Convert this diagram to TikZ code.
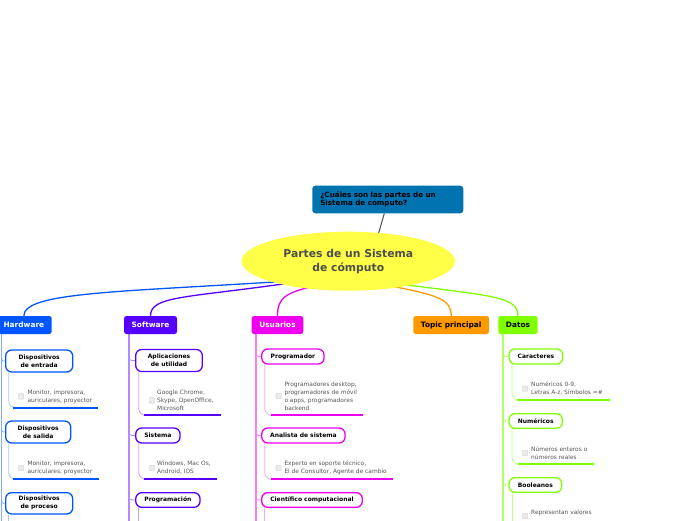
\documentclass[tikz,border=0pt]{standalone}
\usepackage{fontspec}
\setmainfont{DejaVu Sans}
\usetikzlibrary{shapes.geometric,calc}
\definecolor{hw}{RGB}{0,85,255}
\definecolor{sw}{RGB}{85,0,255}
\definecolor{us}{RGB}{238,0,238}
\definecolor{tp}{RGB}{255,153,0}
\definecolor{da}{RGB}{128,255,0}
\definecolor{qb}{RGB}{0,115,176}
\definecolor{yel}{RGB}{255,255,72}
\definecolor{dark}{RGB}{77,77,77}
\definecolor{leafgray}{RGB}{85,85,85}
\pgfdeclarelayer{bg}
\pgfsetlayers{bg,main}
\begin{document}
\begin{tikzpicture}[x=1pt,y=-1pt,
  topic/.style={rounded corners=2.5, inner sep=0, minimum height=18, font=\bfseries\fontsize{7.4}{9}\selectfont},
  sub/.style={draw, fill=white, line width=1.3, rounded corners=6, inner sep=0, align=center, font=\bfseries\fontsize{6}{8}\selectfont},
  leaf/.style={anchor=west, inner sep=0, align=left, text=leafgray, font=\fontsize{5.9}{8}\selectfont},
  chk/.style={draw=black!18, fill=black!8, line width=0.4, minimum size=5.5, inner sep=0, rounded corners=0.8},
  uline/.style={line width=2.3},
  spine/.style={line width=1.1},
  link/.style={line width=0.8},
  mainlink/.style={line width=1.3}]
\useasboundingbox (0,0) rectangle (696,520);
\clip (0,0) rectangle (696,520);

% question and centre
\node[fill=qb, rounded corners=3, inner xsep=8, inner ysep=0, text width=135, minimum height=27.6, align=left,
  font=\bfseries\fontsize{7.2}{8.6}\selectfont] (q) at (387.8,199.5) {¿Cuáles son las partes de un\\Sistema de cómputo?};
\node[ellipse, fill=yel, minimum width=213.4, minimum height=59, inner sep=0, align=center, text=dark,
  font=\bfseries\fontsize{10.8}{14.3}\selectfont] (c) at (348.3,261.2) {Partes de un Sistema\\de cómputo};

% main topics
\node[topic, fill=hw, text=white, minimum width=55.7] (hw) at (23.85,325) {Hardware};
\node[topic, fill=sw, text=white, minimum width=53] (sw) at (150.5,325) {Software};
\node[topic, fill=us, text=white, minimum width=51.6] (us) at (277.5,325) {Usuarios};
\node[topic, fill=tp, text=black, minimum width=75.7] (tp) at (451.2,325) {Topic principal};
\node[topic, fill=da, text=black, minimum width=39.4] (da) at (518,325) {Datos};

% coordinates
\coordinate (qend) at (376.6,240);
\coordinate (hwst) at (290,281);
\coordinate (swst) at (290,283);
\coordinate (usst) at (320,285);
\coordinate (tpst) at (385,285);
\coordinate (dast) at (400,284);
\coordinate (hwS) at (1.5,334);
\coordinate (swS) at (129,334);
\coordinate (usS) at (256,334);
\coordinate (daS) at (503,334);

% sub topics
\node[sub, draw=hw, minimum width=67, minimum height=22] (hw1) at (39.2,361) {Dispositivos\\de entrada};
\node[sub, draw=hw, minimum width=65, minimum height=22] (hw2) at (38.2,432) {Dispositivos\\de salida};
\node[sub, draw=hw, minimum width=67, minimum height=21.3] (hw3) at (39.2,503.3) {Dispositivos\\de proceso};
\node[sub, draw=sw, minimum width=66.6, minimum height=22] (sw1) at (169,360.5) {Aplicaciones\\de utilidad};
\node[sub, draw=sw, minimum width=44.3, minimum height=15] (sw2) at (157.9,435.5) {Sistema};
\node[sub, draw=sw, minimum width=64.3, minimum height=14.6] (sw3) at (167.9,500) {Programación};
\node[sub, draw=us, minimum width=62.3, minimum height=15] (us1) at (292.9,356.5) {Programador};
\node[sub, draw=us, minimum width=83.3, minimum height=15] (us2) at (303.4,435.5) {Analista de sistema};
\node[sub, draw=us, minimum width=100.6, minimum height=14.6] (us3) at (312,500) {Científico computacional};
\node[sub, draw=da, minimum width=53.7, minimum height=15] (da1) at (535.9,356.5) {Caracteres};
\node[sub, draw=da, minimum width=53.3, minimum height=14.6] (da2) at (535.7,421) {Numéricos};
\node[sub, draw=da, minimum width=52.7, minimum height=14.6] (da3) at (535.4,485) {Booleanos};

% leaves
\node[chk] (hwc1) at (21,396.4) {};
\node[leaf] (hwl1) at (27.3,396.4) {Monitor, impresora,\\auriculares, proyector};
\node[chk] (hwc2) at (21,468) {};
\node[leaf] (hwl2) at (27.3,468) {Monitor, impresora,\\auriculares, proyector};
\node[chk] (swc1) at (152,400.3) {};
\node[leaf] (swl1) at (157,400.3) {Google Chrome,\\Skype, OpenOffice,\\Microsoft};
\node[chk] (swc2) at (152,468) {};
\node[leaf] (swl2) at (157,468) {Windows, Mac Os,\\Android, IOS};
\node[chk] (usc1) at (278.7,396) {};
\node[leaf] (usl1) at (284.3,396) {Programadores desktop,\\programadores de móvil\\o apps, programadores\\backend};
\node[chk] (usc2) at (278.7,468) {};
\node[leaf] (usl2) at (284.3,468) {Experto en soporte técnico,\\El de Consultor, Agente de cambio};
\node[chk] (dac1) at (525,388.7) {};
\node[leaf] (dal1) at (531,388.7) {Numéricos 0-9,\\Letras A-z, Símbolos =\#};
\node[chk] (dac2) at (525,453) {};
\node[leaf] (dal2) at (531,452.7) {Números enteros o\\números reales};
\node[chk] (dac3) at (525,516) {};
\node[leaf] (dal3) at (531,512.7) {Representan valores};

% underline coordinates
\coordinate (hwu1) at (13,407.7);  \coordinate (hwu1e) at (98,407.7);
\coordinate (hwu2) at (13,479.3);  \coordinate (hwu2e) at (99,479.3);
\coordinate (swu1) at (144,415.3); \coordinate (swu1e) at (220.7,415.3);
\coordinate (swu2) at (143.5,479.3); \coordinate (swu2e) at (217,479.3);
\coordinate (usu1) at (271,415.3); \coordinate (usu1e) at (363.3,415.3);
\coordinate (usu2) at (271,479.3); \coordinate (usu2e) at (393.3,479.3);
\coordinate (dau1) at (517.3,400); \coordinate (dau1e) at (610,400);
\coordinate (dau2) at (518.3,464.3); \coordinate (dau2e) at (594.3,464.3);

\draw[uline, hw] (hwu1) -- (hwu1e);
\draw[uline, hw] (hwu2) -- (hwu2e);
\draw[uline, sw] (swu1) -- (swu1e);
\draw[uline, sw] (swu2) -- (swu2e);
\draw[uline, us] (usu1) -- (usu1e);
\draw[uline, us] (usu2) -- (usu2e);
\draw[uline, da] (dau1) -- (dau1e);
\draw[uline, da] (dau2) -- (dau2e);

\begin{pgfonlayer}{bg}
  % question link
  \draw[line width=1, dark] ([xshift=-3.5pt]q.south) -- (qend);
  % main links
  \draw[mainlink, hw] (hwst) .. controls (120,292) and (23.85,292) .. (hw.north);
  \draw[mainlink, sw] (swst) .. controls (185,298) and (150.5,296) .. (sw.north);
  \draw[mainlink, us] (usst) .. controls (285,292) and (277.5,298) .. (us.north);
  \draw[mainlink, tp] (tpst) .. controls (440,295) and (451.2,300) .. (tp.north);
  \draw[mainlink, da] (dast) .. controls (490,296) and (518,296) .. (da.north);
  % spines
  \draw[spine, hw!50] (hwS) -- (1.5,525);
  \draw[spine, sw!45] (swS) -- (129,525);
  \draw[spine, us!50] (usS) -- (256,525);
  \draw[spine, da!60] (daS) -- (503,525);
  % spine to sub topics
  \foreach \n/\s/\col in {hw1/hwS/hw!50, hw2/hwS/hw!50, hw3/hwS/hw!50,
                          sw1/swS/sw!45, sw2/swS/sw!45, sw3/swS/sw!45,
                          us1/usS/us!50, us2/usS/us!50, us3/usS/us!50,
                          da1/daS/da!60, da2/daS/da!60, da3/daS/da!60}
    \draw[link, \col] ($(\s |- \n.west)+(0,-8)$) .. controls (\s |- \n.west) .. (\n.west);
  % sub topic to leaf underline
  \foreach \n/\u/\col in {hw1/hwu1/hw!35, hw2/hwu2/hw!35, sw1/swu1/sw!35, sw2/swu2/sw!35,
                          us1/usu1/us!35, us2/usu2/us!35, da1/dau1/da!50, da2/dau2/da!50}
    \draw[link, \col, rounded corners=7] ([xshift=3.6pt]\n.south west) |- (\u);
  \draw[link, hw!35] ([xshift=3.6pt]hw3.south west) -- ++(0,20);
  \draw[link, sw!35] ([xshift=3.6pt]sw3.south west) -- ++(0,20);
  \draw[link, us!35] ([xshift=3.6pt]us3.south west) -- ++(0,20);
  \draw[link, da!50, rounded corners=7] ([xshift=3.6pt]da3.south west) -- ++(0,40);
\end{pgfonlayer}
\end{tikzpicture}
\end{document}
